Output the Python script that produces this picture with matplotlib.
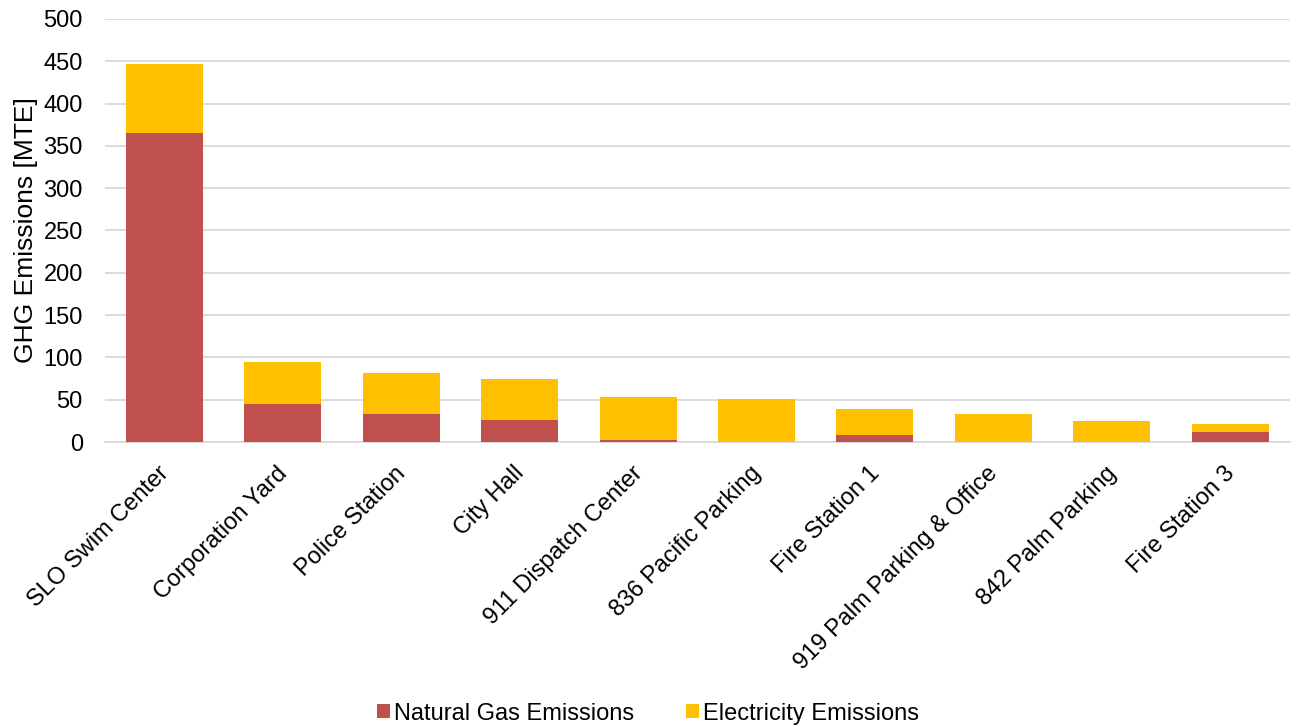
import matplotlib
matplotlib.use("Agg")
import matplotlib.pyplot as plt
from matplotlib.transforms import ScaledTranslation
import numpy as np

plt.rcParams['font.family'] = ['Liberation Sans', 'DejaVu Sans']

facilities = [
    "SLO Swim Center", "Corporation Yard", "Police Station", "City Hall",
    "911 Dispatch Center", "836 Pacific Parking", "Fire Station 1",
    "919 Palm Parking & Office", "842 Palm Parking", "Fire Station 3",
]
natural_gas = [365, 45, 33, 26, 2, 0, 8, 0, 0, 12]
electricity = [82, 50, 48, 48, 51, 50.5, 31.5, 33, 25, 9]

gas_color = "#C0504D"
elec_color = "#FFC000"
grid_color = "#D9D9D9"
fs = 17

fig = plt.figure(figsize=(12.96, 7.27), dpi=100)
ax = fig.add_axes([0.081, 0.392, 0.914, 0.582])

x = np.arange(len(facilities))
width = 0.65
ax.bar(x, natural_gas, width, color=gas_color, label="Natural Gas Emissions", zorder=3)
ax.bar(x, electricity, width, bottom=natural_gas, color=elec_color,
       label="Electricity Emissions", zorder=3)

ax.set_xlim(-0.5, len(facilities) - 0.5)
ax.set_ylim(0, 500)
ax.set_yticks(np.arange(0, 501, 50))
ax.yaxis.grid(True, color=grid_color, linewidth=1.3, zorder=0)
ax.set_axisbelow(True)
for s in ["top", "right", "left"]:
    ax.spines[s].set_visible(False)
ax.spines["bottom"].set_color(grid_color)
ax.spines["bottom"].set_linewidth(1.3)
ax.tick_params(axis="both", length=0, labelsize=fs, colors="black")
ax.tick_params(axis="y", pad=16)

ax.set_xticks(x)
ax.set_xticklabels(facilities, rotation=45, ha="right", va="center",
                   rotation_mode="anchor", fontsize=fs)
offset = ScaledTranslation(0.01, -0.23, fig.dpi_scale_trans)
for lbl in ax.get_xticklabels():
    lbl.set_transform(lbl.get_transform() + offset)

ax.set_ylabel("GHG Emissions [MTE]", fontsize=19, labelpad=4)

fig.legend(loc="lower center", ncol=2, frameon=False, fontsize=fs,
           handlelength=0.55, handleheight=0.55, handletextpad=0.15,
           columnspacing=2.2, bbox_to_anchor=(0.5, -0.026))

fig.savefig("out.png", dpi=100)
